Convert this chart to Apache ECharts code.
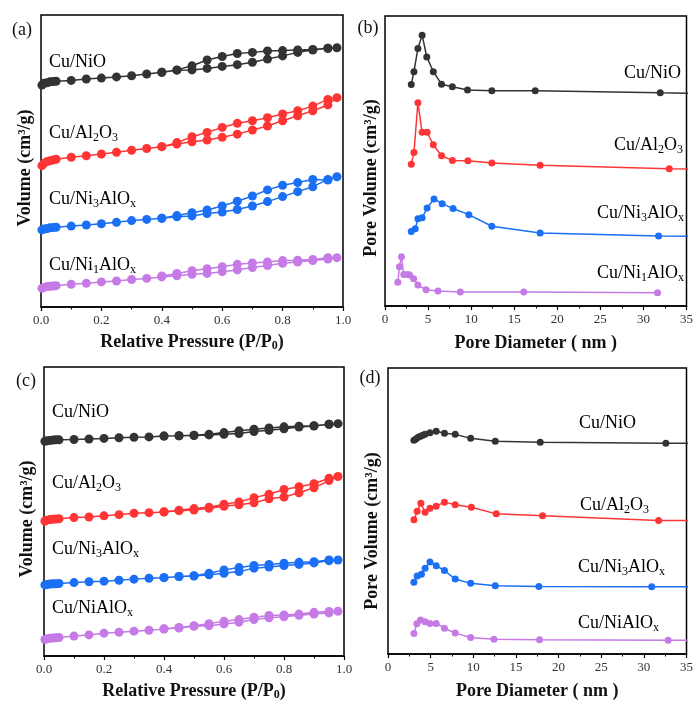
<!DOCTYPE html>
<html>
<head>
<meta charset="utf-8">
<script src="https://cdn.jsdelivr.net/npm/echarts@6/dist/echarts.min.js"></script>
<style>
  html, body { margin: 0; padding: 0; background: #fff; }
  #chart { width: 696px; height: 702px; }
</style>
</head>
<body>
<div id="chart"></div>
<script>
// ---------- N2 isotherms: relative pressure points ----------
const pressureAds = [0.003, 0.01, 0.02, 0.03, 0.04, 0.05, 0.1, 0.15, 0.2, 0.25, 0.3, 0.35, 0.4, 0.45, 0.5, 0.55, 0.6, 0.65, 0.7, 0.75, 0.8, 0.85, 0.9, 0.95, 0.98];
const pressureDes = [0.95, 0.9, 0.85, 0.8, 0.75, 0.7, 0.65, 0.6, 0.55, 0.5, 0.45, 0.4];
const pressureTicks = [0, 0.2, 0.4, 0.6, 0.8, 1.0];

// Panel (a) isotherms (offset stacked, arbitrary units)
const aNiOAds   = [76.0, 76.6, 76.8, 77.1, 77.2, 77.3, 77.6, 78.1, 78.4, 78.8, 79.2, 79.8, 80.4, 81.1, 81.2, 81.7, 82.4, 83.0, 83.8, 84.9, 86.0, 87.2, 88.0, 88.6, 88.8];
const aNiODes   = [88.6, 88.2, 88.0, 87.8, 87.7, 87.2, 86.8, 85.8, 84.6, 82.6, 81.2, 80.4];
const aAl2O3Ads = [48.4, 49.2, 49.8, 50.1, 50.3, 50.6, 51.3, 51.8, 52.4, 53.0, 53.7, 54.3, 54.9, 55.8, 56.6, 57.2, 58.1, 59.2, 60.6, 62.0, 63.8, 65.5, 67.2, 69.2, 71.7];
const aAl2O3Des = [71.1, 68.8, 67.2, 66.1, 64.8, 63.8, 62.9, 61.5, 59.8, 58.3, 56.3, 54.9];
const aNi3Ads   = [26.4, 26.7, 26.9, 27.1, 27.2, 27.3, 27.7, 28.1, 28.5, 29.0, 29.6, 30.0, 30.4, 30.9, 31.2, 32.0, 32.5, 33.4, 34.6, 36.1, 37.8, 39.5, 41.2, 43.7, 44.6];
const aNi3Des   = [43.5, 43.7, 42.6, 41.7, 40.1, 38.0, 36.2, 34.6, 33.2, 32.3, 31.3, 30.4];
const aNi1Ads   = [6.4, 6.7, 7.0, 7.1, 7.2, 7.3, 7.8, 8.1, 8.6, 8.9, 9.4, 9.8, 10.3, 10.7, 11.2, 11.5, 12.1, 12.7, 13.5, 14.2, 15.0, 15.4, 15.9, 16.4, 16.9];
const aNi1Des   = [16.9, 16.3, 16.0, 15.9, 15.4, 15.1, 14.6, 13.8, 13.1, 12.4, 11.5, 10.6];

// Panel (c) isotherms
const cNiOAds   = [74.3, 74.5, 74.6, 74.7, 74.8, 74.8, 74.9, 75.1, 75.3, 75.5, 75.7, 75.8, 76.1, 76.2, 76.3, 76.5, 76.7, 77.0, 77.7, 78.1, 78.6, 79.2, 79.6, 80.2, 80.4];
const cNiODes   = [80.2, 79.7, 79.5, 79.3, 78.9, 78.5, 77.9, 77.3, 76.7, 76.4, 76.2, 76.1];
const cAl2O3Ads = [46.7, 47.0, 47.2, 47.3, 47.4, 47.5, 47.9, 48.1, 48.5, 48.9, 49.4, 49.6, 49.8, 50.3, 50.5, 51.1, 51.8, 52.3, 53.0, 54.4, 55.0, 56.5, 58.2, 60.7, 62.1];
const cAl2O3Des = [61.5, 59.6, 58.6, 57.6, 56.0, 54.8, 53.3, 52.5, 51.5, 51.0, 50.4, 49.9];
const cNi3Ads   = [24.6, 24.7, 24.9, 25.0, 25.0, 25.1, 25.4, 25.7, 25.9, 26.2, 26.6, 26.9, 27.1, 27.5, 27.7, 28.1, 28.6, 29.2, 30.4, 30.8, 31.3, 31.7, 32.2, 33.0, 33.2];
const cNi3Des   = [33.2, 32.6, 32.4, 32.1, 31.7, 31.3, 30.6, 29.8, 28.6, 27.8, 27.5, 27.1];
const cNiAlAds  = [5.7, 6.0, 6.1, 6.2, 6.3, 6.4, 6.9, 7.3, 7.9, 8.2, 8.6, 8.9, 9.3, 9.7, 10.3, 10.5, 11.1, 11.7, 12.6, 13.2, 13.6, 14.1, 14.5, 14.9, 15.5];
const cNiAlDes  = [15.4, 15.1, 14.5, 14.2, 14.0, 13.4, 12.6, 12.0, 11.2, 10.5, 9.9, 9.4];

// ---------- Pore size distributions: diameter (nm) / pore volume ----------
const diameterTicks = [0, 5, 10, 15, 20, 25, 30, 35];

// Panel (b)
const bNiOD    = [3.05, 3.36, 3.82, 4.31, 4.85, 5.61, 6.56, 7.82, 9.58, 12.40, 17.44, 31.95, 45];
const bNiOV    = [76.4, 80.8, 88.8, 93.4, 85.9, 80.8, 76.5, 75.6, 74.5, 74.2, 74.2, 73.5, 73.0];
const bAl2O3D  = [3.05, 3.36, 3.82, 4.31, 4.89, 5.61, 6.56, 7.82, 9.62, 12.40, 18.01, 33.0, 45];
const bAl2O3V  = [48.9, 52.9, 70.1, 59.9, 59.9, 55.6, 51.8, 50.2, 50.1, 49.3, 48.5, 47.3, 46.8];
const bNi3D    = [3.05, 3.51, 3.82, 4.31, 4.89, 5.69, 6.64, 7.90, 9.73, 12.40, 18.01, 31.76, 45];
const bNi3V    = [25.7, 26.6, 30.1, 30.4, 33.8, 36.9, 35.3, 33.6, 31.5, 27.5, 25.2, 24.1, 23.8];
const bNi1D    = [1.49, 1.68, 1.91, 2.18, 2.63, 2.86, 3.32, 3.82, 4.77, 6.15, 8.74, 16.11, 31.64];
const bNi1V    = [8.2, 13.5, 17.0, 10.9, 10.9, 10.7, 9.4, 7.2, 5.6, 5.2, 4.8, 4.8, 4.6];

// Panel (d)
const dNiOD    = [3.04, 3.27, 3.54, 3.81, 4.08, 4.35, 4.92, 5.65, 6.62, 7.88, 9.69, 12.58, 17.85, 32.58, 45];
const dNiOV    = [74.7, 75.2, 75.8, 76.1, 76.5, 76.8, 77.4, 77.9, 77.2, 76.8, 75.4, 74.4, 74.0, 73.7, 73.6];
const dAl2O3D  = [3.04, 3.42, 3.85, 4.35, 4.92, 5.65, 6.62, 7.88, 9.77, 12.69, 18.12, 31.73, 45];
const dAl2O3V  = [46.9, 49.9, 52.7, 49.6, 51.0, 51.7, 53.1, 52.2, 51.3, 49.0, 48.3, 46.7, 46.5];
const dNi3D    = [3.04, 3.42, 3.92, 4.35, 4.92, 5.65, 6.62, 7.88, 9.69, 12.58, 17.69, 30.92, 45];
const dNi3V    = [25.1, 27.3, 27.9, 30.0, 32.2, 30.9, 29.2, 26.2, 24.7, 23.9, 23.6, 23.5, 23.5];
const dNiAlD   = [3.04, 3.38, 3.81, 4.35, 4.92, 5.65, 6.62, 7.88, 9.69, 12.42, 17.77, 32.85, 45];
const dNiAlV   = [7.2, 10.6, 11.9, 11.3, 10.7, 10.7, 9.0, 7.3, 5.8, 5.2, 5.0, 4.8, 4.8];

// ---------- styling ----------
const SERIF = '"Liberation Serif", "Times New Roman", serif';
const C_BLACK = '#333333', C_RED = '#ff3535', C_BLUE = '#1a6ff5', C_PURPLE = '#c57ae6';

const grids = [
  { left: 41,  top: 15,  width: 302, height: 292 },
  { left: 385, top: 16,  width: 306, height: 290 },
  { left: 44,  top: 367, width: 300, height: 291 },
  { left: 388, top: 368, width: 303, height: 288 }
].map(g => Object.assign({ show: true, borderColor: '#000', borderWidth: 1.5, backgroundColor: 'transparent' }, g));

function zip(xs, ys) { return xs.map((x, i) => [x, ys[i]]); }
function loop(ads, des) { return zip(pressureAds, ads).concat(zip(pressureDes, des)); }

function xAxis(gridIndex, ticks, fmt, nameText, gap) {
  const step = ticks[1] - ticks[0];
  return {
    type: 'value', gridIndex,
    min: ticks[0], max: ticks[ticks.length - 1], interval: step,
    name: nameText, nameLocation: 'middle', nameGap: gap,
    nameTextStyle: {
      fontFamily: SERIF, fontWeight: 'bold', fontSize: 18, color: '#111', lineHeight: 20,
      rich: { s: { fontFamily: SERIF, fontWeight: 'bold', fontSize: 12, color: '#111', verticalAlign: 'bottom', lineHeight: 11 } }
    },
    axisLine: { show: true, lineStyle: { color: '#000', width: 1.5 } },
    axisTick: { show: true, inside: false, length: 4, lineStyle: { color: '#000', width: 1.2 } },
    minorTick: { show: true, splitNumber: 2, length: 2.5, lineStyle: { color: '#000', width: 1 } },
    axisLabel: { fontFamily: SERIF, fontSize: 13, color: '#333', margin: 7, formatter: fmt },
    splitLine: { show: false }
  };
}
function yAxis(gridIndex) {
  return {
    type: 'value', gridIndex, min: 0, max: 100,
    axisLine: { show: false }, axisTick: { show: false }, axisLabel: { show: false }, splitLine: { show: false }
  };
}

function line(idx, data, color, size) {
  return {
    type: 'line', xAxisIndex: idx, yAxisIndex: idx, data,
    symbol: 'circle', symbolSize: size, showAllSymbol: true,
    lineStyle: { color, width: 1.5 }, itemStyle: { color },
    clip: true, animation: false, z: 3
  };
}

const labelRich = {
  n: { fontFamily: SERIF, fontSize: 18, color: '#1a1a1a', lineHeight: 22 },
  s: { fontFamily: SERIF, fontSize: 12, color: '#1a1a1a', verticalAlign: 'bottom', lineHeight: 12 }
};
function tag(text, x, y, align) {
  return { type: 'text', x, y, silent: true,
    style: { text, rich: labelRich, align: align || 'left', verticalAlign: 'middle' } };
}
function plain(text, x, y, size, bold, rot) {
  return { type: 'text', x, y, rotation: rot || 0, silent: true,
    style: { text, fontFamily: SERIF, fontSize: size, fontWeight: bold ? 'bold' : 'normal', fill: '#111',
      align: 'center', verticalAlign: 'middle' } };
}

const NI3 = '{n|Cu/Ni}{s|3}{n|AlO}{s|x}';
const option = {
  backgroundColor: '#fff',
  animation: false,
  grid: grids,
  xAxis: [
    xAxis(0, pressureTicks, v => v.toFixed(1), 'Relative Pressure (P/P{s|0})', 25),
    xAxis(1, diameterTicks, v => String(v), 'Pore Diameter ( nm )', 27),
    xAxis(2, pressureTicks, v => v.toFixed(1), 'Relative Pressure (P/P{s|0})', 25),
    xAxis(3, diameterTicks, v => String(v), 'Pore Diameter ( nm )', 27)
  ],
  yAxis: [yAxis(0), yAxis(1), yAxis(2), yAxis(3)],
  series: [
    line(0, loop(aNiOAds, aNiODes), C_BLACK, 9),
    line(0, loop(aAl2O3Ads, aAl2O3Des), C_RED, 9),
    line(0, loop(aNi3Ads, aNi3Des), C_BLUE, 9),
    line(0, loop(aNi1Ads, aNi1Des), C_PURPLE, 9),

    line(1, zip(bNiOD, bNiOV), C_BLACK, 7),
    line(1, zip(bAl2O3D, bAl2O3V), C_RED, 7),
    line(1, zip(bNi3D, bNi3V), C_BLUE, 7),
    line(1, zip(bNi1D, bNi1V), C_PURPLE, 7),

    line(2, loop(cNiOAds, cNiODes), C_BLACK, 9),
    line(2, loop(cAl2O3Ads, cAl2O3Des), C_RED, 9),
    line(2, loop(cNi3Ads, cNi3Des), C_BLUE, 9),
    line(2, loop(cNiAlAds, cNiAlDes), C_PURPLE, 9),

    line(3, zip(dNiOD, dNiOV), C_BLACK, 7),
    line(3, zip(dAl2O3D, dAl2O3V), C_RED, 7),
    line(3, zip(dNi3D, dNi3V), C_BLUE, 7),
    line(3, zip(dNiAlD, dNiAlV), C_PURPLE, 7)
  ],
  graphic: [
    plain('(a)', 22, 30, 18, false),
    plain('(b)', 368, 28, 18, false),
    plain('(c)', 26, 381, 18, false),
    plain('(d)', 370, 378, 18, false),

    plain('Volume (cm\u00b3/g)', 25, 168, 18, true, Math.PI / 2),
    plain('Pore Volume (cm\u00b3/g)', 371, 178, 18, true, Math.PI / 2),
    plain('Volume (cm\u00b3/g)', 27, 519, 18, true, Math.PI / 2),
    plain('Pore Volume (cm\u00b3/g)', 372, 531, 18, true, Math.PI / 2),

    tag('{n|Cu/NiO}', 49, 62),
    tag('{n|Cu/Al}{s|2}{n|O}{s|3}', 49, 133),
    tag(NI3, 49, 199),
    tag('{n|Cu/Ni}{s|1}{n|AlO}{s|x}', 49, 265),

    tag('{n|Cu/NiO}', 681, 73, 'right'),
    tag('{n|Cu/Al}{s|2}{n|O}{s|3}', 683, 145, 'right'),
    tag(NI3, 684, 213, 'right'),
    tag('{n|Cu/Ni}{s|1}{n|AlO}{s|x}', 684, 273, 'right'),

    tag('{n|Cu/NiO}', 52, 412),
    tag('{n|Cu/Al}{s|2}{n|O}{s|3}', 52, 483),
    tag(NI3, 52, 549),
    tag('{n|Cu/NiAlO}{s|x}', 52, 608),

    tag('{n|Cu/NiO}', 579, 423),
    tag('{n|Cu/Al}{s|2}{n|O}{s|3}', 580, 505),
    tag(NI3, 578, 567),
    tag('{n|Cu/NiAlO}{s|x}', 578, 623)
  ]
};

const chart = echarts.init(document.getElementById('chart'), null, { renderer: 'canvas' });
chart.setOption(option);
</script>
</body>
</html>
